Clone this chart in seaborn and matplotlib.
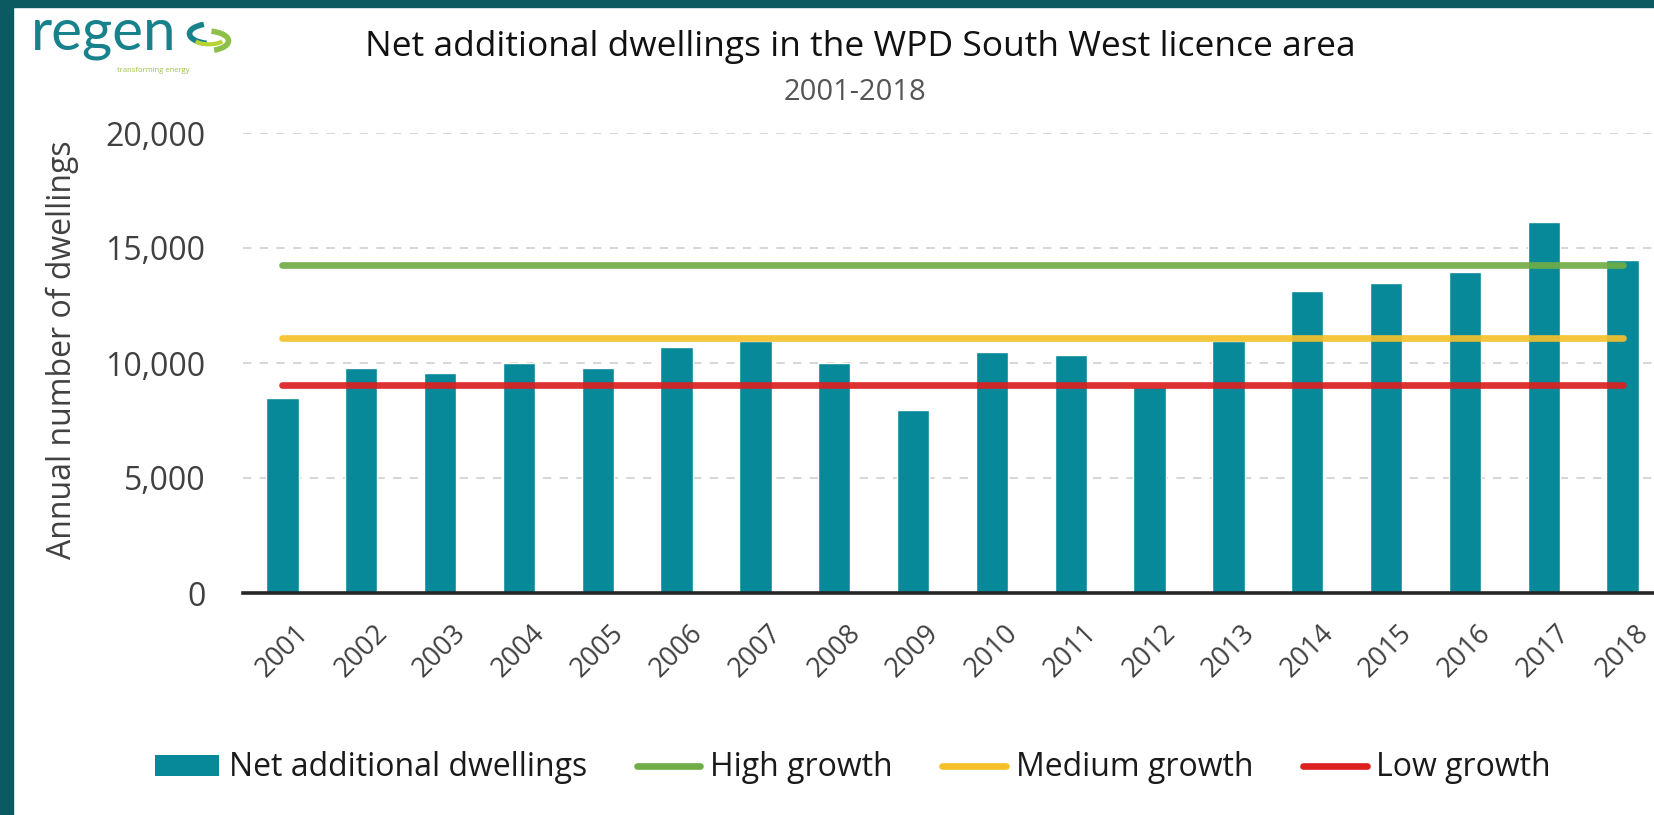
import numpy as np
import pandas as pd
import matplotlib
matplotlib.use("Agg")
import matplotlib.pyplot as plt
import seaborn as sns
from matplotlib.patches import Rectangle, Arc, Patch
from matplotlib.lines import Line2D
from matplotlib.ticker import FuncFormatter

# ---- data -------------------------------------------------------------
years = ["2001", "2002", "2003", "2004", "2005", "2006", "2007", "2008", "2009",
         "2010", "2011", "2012", "2013", "2014", "2015", "2016", "2017", "2018"]
net_dwellings = [8500, 9800, 9550, 10000, 9800, 10700, 10950, 10000, 7950,
                 10500, 10350, 8950, 10950, 13150, 13500, 13950, 16150, 14500]

scenario_names = ["High growth", "Medium growth", "Low growth"]
scenario_levels = [14250, 11100, 9050]
scenario_colors = ["#70ad47", "#f5c02a", "#dc1f1f"]

y_ticks = [0, 5000, 10000, 15000, 20000]

title = "Net additional dwellings in the WPD South West licence area"
subtitle = "2001-2018"
y_label = "Annual number of dwellings"
bar_label = "Net additional dwellings"

BAR_COLOR = "#07899a"
BORDER = "#0b5a62"

# ---- style ------------------------------------------------------------
sns.set_theme(style="white")
plt.rcParams["font.family"] = ["Open Sans", "DejaVu Sans"]

W, H = 1654, 815
fig = plt.figure(figsize=(W / 100, H / 100), dpi=100)
fig.patch.set_facecolor("white")

def fx(px):
    return px / W

def fy(py):
    return 1 - py / H

ax = fig.add_axes([fx(243), fy(593), fx(1419), 460 / H])
ax.set_facecolor("none")

# bars
sns.barplot(x=years, y=net_dwellings, color=BAR_COLOR, saturation=1,
            width=0.41, ax=ax, zorder=2)

# scenario lines, one value carried across every year
n = len(years)
lines_df = pd.DataFrame({
    "pos": np.tile(np.arange(n), len(scenario_names)),
    "value": np.repeat(scenario_levels, n),
    "scenario": np.repeat(scenario_names, n),
})
sns.lineplot(data=lines_df, x="pos", y="value", hue="scenario",
             palette=dict(zip(scenario_names, scenario_colors)),
             hue_order=scenario_names, linewidth=4.8, alpha=0.92,
             solid_capstyle="round", legend=False, ax=ax, zorder=3)

# axes
ax.set_ylim(0, 20000)
ax.set_xlim(-0.5, n - 0.5)
ax.set_yticks(y_ticks)
ax.yaxis.set_major_formatter(FuncFormatter(lambda v, p: f"{v:,.0f}"))
ax.set_xlabel("")
ax.set_ylabel(y_label, fontsize=23, color="#404040")
ax.yaxis.label.set_va("center")
ax.yaxis.set_label_coords(-0.1276, 0.53)

ax.yaxis.grid(True, color="#cfcfcf", linewidth=1.2, linestyle=(0, (5, 5)), zorder=0)
ax.xaxis.grid(False)
ax.set_axisbelow(True)
for side in ("left", "right", "top"):
    ax.spines[side].set_visible(False)
ax.spines["bottom"].set_color("#262626")
ax.spines["bottom"].set_linewidth(2.6)
ax.spines["bottom"].set_zorder(4)

ax.tick_params(axis="y", length=0, pad=27, labelsize=23, labelcolor="#404040")
ax.tick_params(axis="x", length=0, pad=19, labelsize=19.5, labelcolor="#404040")
plt.setp(ax.get_xticklabels(), rotation=45, ha="center", va="top")

# titles
fig.text(fx(860), fy(47), title, ha="center", va="center", fontsize=25.5, color="#111111")
fig.text(fx(855), fy(93), subtitle, ha="center", va="center", fontsize=21, color="#555555")

# legend
handles = [Patch(facecolor=BAR_COLOR, edgecolor="none")] + [
    Line2D([], [], color=c, linewidth=4.8, solid_capstyle="round") for c in scenario_colors
]
labels = [bar_label] + scenario_names
fig.legend(handles, labels, loc="center", bbox_to_anchor=(fx(853), fy(768)),
           ncol=4, frameon=False, fontsize=23, handlelength=2.0, handleheight=0.65,
           handletextpad=0.3, columnspacing=1.55, labelcolor="#1a1a1a")

# logo
fig.text(fx(31), fy(50), "regen", ha="left", va="baseline", fontsize=42,
         color="#17818c", family=["Lato", "Open Sans", "DejaVu Sans"], fontweight="normal")
fig.text(fx(117), fy(70), "transforming energy", ha="left", va="center", fontsize=5.5,
         color="#9fc04a")
lax = fig.add_axes([fx(183), fy(56), fx(52), 36 / H])
lax.set_xlim(0, 1)
lax.set_ylim(0, 1)
lax.axis("off")
lax.add_patch(Arc((0.55, 0.62), 0.85, 0.55, theta1=120, theta2=250, color="#17818c", lw=4))
lax.add_patch(Arc((0.45, 0.42), 0.85, 0.55, theta1=-60, theta2=70, color="#8cc04a", lw=4))
lax.add_patch(Arc((0.5, 0.5), 0.6, 0.35, theta1=200, theta2=340, color="#b7d432", lw=3))

# frame band along the top and left edges
fig.patches.append(Rectangle((0, fy(7)), 1, 7 / H, transform=fig.transFigure,
                             color=BORDER, zorder=10))
fig.patches.append(Rectangle((0, 0), fx(13), 1, transform=fig.transFigure,
                             color=BORDER, zorder=10))

fig.savefig("out.png", dpi=100, facecolor="white")
